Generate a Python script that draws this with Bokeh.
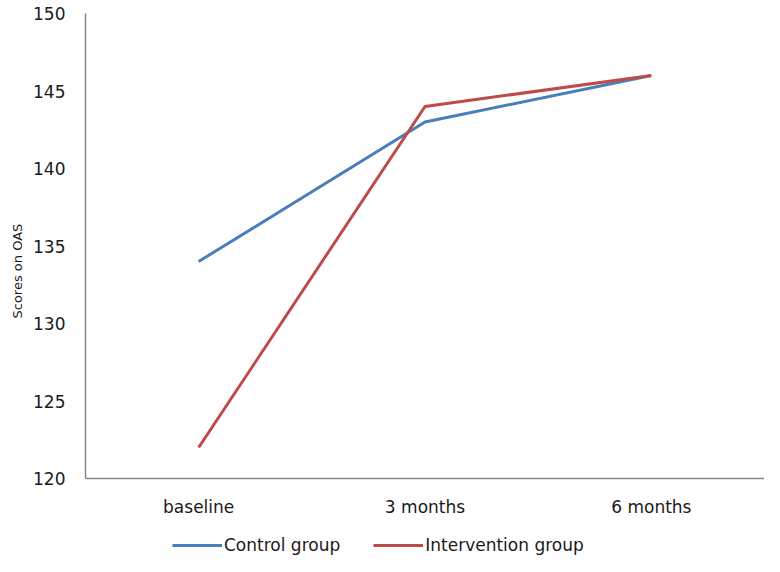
from bokeh.plotting import figure
from bokeh.layouts import column
from bokeh.models import Range1d, FactorRange, FixedTicker, Legend, LegendItem, Title
from bokeh.embed import file_html
from bokeh.resources import INLINE

categories = ["baseline", "3 months", "6 months"]
control = [134, 143, 146]
intervention = [122, 144, 146]
y_ticks = [120, 125, 130, 135, 140, 145, 150]
series_names = ["Control group", "Intervention group"]
series_colors = ["#4A7EBB", "#BE4B48"]
series_values = [control, intervention]

FONT = "DejaVu Sans"
TXT = "#1a1a1a"

p = figure(width=764, height=520, output_backend="svg", toolbar_location=None,
           x_range=FactorRange(*categories, range_padding=0),
           y_range=Range1d(120, 150),
           min_border_left=85, min_border_right=0, min_border_top=13, min_border_bottom=42)

p.outline_line_color = None
p.xgrid.grid_line_color = None
p.ygrid.grid_line_color = None

for vals, col in zip(series_values, series_colors):
    p.line(categories, vals, line_color=col, line_width=3)

for ax in (p.xaxis[0], p.yaxis[0]):
    ax.axis_line_color = "#868686"
    ax.axis_line_width = 1.5
    ax.major_tick_line_color = None
    ax.minor_tick_line_color = None
    ax.major_tick_out = 0
    ax.major_tick_in = 0
    ax.major_label_text_font = FONT
    ax.major_label_text_font_size = "17px"
    ax.major_label_text_color = TXT

p.yaxis.ticker = FixedTicker(ticks=y_ticks)
p.yaxis.major_label_standoff = 20
p.xaxis.major_label_standoff = 18

ytitle = Title(text="Scores on OAS", align="left", offset=160,
               text_font=FONT, text_font_size="13px", text_font_style="normal",
               text_color=TXT, standoff=12)
p.add_layout(ytitle, "left")

# legend strip below the chart (series drawn out of its visible range, only the legend shows)
q = figure(width=764, height=36, output_backend="svg", toolbar_location=None,
           x_range=FactorRange(*categories, range_padding=0), y_range=Range1d(0, 1),
           x_axis_type=None, y_axis_type=None,
           min_border_left=0, min_border_right=0, min_border_top=0, min_border_bottom=0)
q.outline_line_color = None
q.xgrid.grid_line_color = None
q.ygrid.grid_line_color = None
items = []
for name, vals, col in zip(series_names, series_values, series_colors):
    r = q.line(categories, vals, line_color=col, line_width=3)
    items.append(LegendItem(label=name, renderers=[r]))

legend = Legend(items=items, orientation="horizontal", location=(87, 1),
                glyph_width=50, glyph_height=20, label_standoff=2, spacing=33,
                padding=0, margin=0, border_line_color=None,
                label_text_font=FONT, label_text_font_size="17px",
                label_text_color=TXT, background_fill_alpha=0)
q.add_layout(legend, "center")

layout = column(p, q, spacing=0)
open("out.html", "w").write(file_html(layout, INLINE))
